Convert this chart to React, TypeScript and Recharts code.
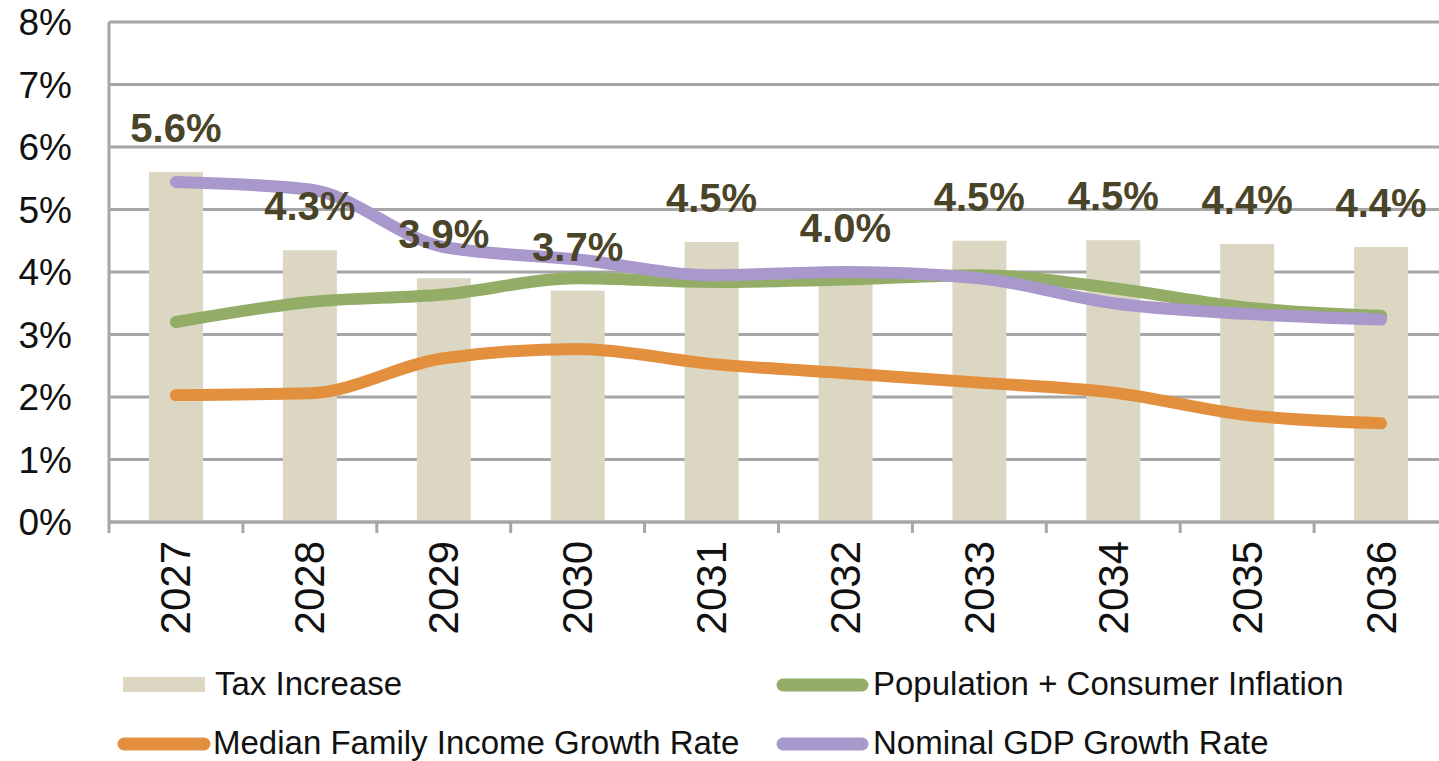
import React from 'react';
import { ComposedChart, Bar, Line, XAxis, YAxis, CartesianGrid, LabelList } from 'recharts';

// values (percent)
const years = ['2027', '2028', '2029', '2030', '2031', '2032', '2033', '2034', '2035', '2036'];
const taxIncrease = [5.6, 4.35, 3.9, 3.7, 4.48, 4.0, 4.5, 4.51, 4.45, 4.4];
const taxLabels = ['5.6%', '4.3%', '3.9%', '3.7%', '4.5%', '4.0%', '4.5%', '4.5%', '4.4%', '4.4%'];
const popInflation = [3.2, 3.52, 3.64, 3.9, 3.84, 3.88, 3.95, 3.74, 3.43, 3.3];
const medianIncome = [2.03, 2.06, 2.62, 2.77, 2.53, 2.38, 2.23, 2.07, 1.71, 1.58];
const nominalGdp = [5.44, 5.32, 4.4, 4.2, 3.95, 4.0, 3.9, 3.5, 3.33, 3.24];
const yTicks = [0, 1, 2, 3, 4, 5, 6, 7, 8];

const data = years.map((year, i) => ({
  year,
  tax: taxIncrease[i],
  label: taxLabels[i],
  pop: popInflation[i],
  median: medianIncome[i],
  gdp: nominalGdp[i],
}));

const FONT = '"Liberation Sans", Arial, sans-serif';
const CHART_W = 1448;
const Y_AXIS_W = 109;
const BAND = (CHART_W - Y_AXIS_W) / years.length;
const GRID = '#a6a6a6';
const BAR = '#dbd7c2';
const GREEN = '#93ad67';
const ORANGE = '#e2903e';
const PURPLE = '#a898cc';

const XTick = (props: any) => {
  const { x, y, payload, index } = props;
  const half = BAND / 2;
  return (
    <g>
      <line x1={x - half} x2={x - half} y1={y} y2={y + 11} stroke={GRID} strokeWidth={3} />
      {index === years.length - 1 && (
        <line x1={x + half} x2={x + half} y1={y} y2={y + 11} stroke={GRID} strokeWidth={3} />
      )}
      <text
        x={x}
        y={y + 19}
        transform={`rotate(-90, ${x}, ${y + 19})`}
        textAnchor="end"
        dominantBaseline="central"
        fontSize={42}
        fontFamily={FONT}
        fill="#111"
      >
        {payload.value}
      </text>
    </g>
  );
};

// legend rows: swatch box and text baseline
const legendItems = [
  { text: 'Tax Increase', color: BAR, kind: 'bar', sx: 123, sw: 82, tx: 215, y: 685 },
  { text: 'Population + Consumer Inflation', color: GREEN, kind: 'line', sx: 777, sw: 91, tx: 873, y: 685 },
  { text: 'Median Family Income Growth Rate', color: ORANGE, kind: 'line', sx: 118, sw: 92, tx: 213, y: 744 },
  { text: 'Nominal GDP Growth Rate', color: PURPLE, kind: 'line', sx: 777, sw: 91, tx: 873, y: 744 },
];

function Legend2() {
  return (
    <svg width={1439} height={761} style={{ position: 'absolute', left: 0, top: 0, pointerEvents: 'none' }}>
      {legendItems.map((it) =>
        <g key={it.text}>
          {it.kind === 'bar' ? (
            <rect x={it.sx} y={it.y - 8} width={it.sw} height={15} fill={it.color} />
          ) : (
            <line x1={it.sx + 6} x2={it.sx + it.sw - 6} y1={it.y} y2={it.y} stroke={it.color} strokeWidth={13} strokeLinecap="round" />
          )}
          <text x={it.tx} y={it.y + 10} fontSize={33} fontFamily={FONT} fill="#111">{it.text}</text>
        </g>
      )}
    </svg>
  );
}

export default function App() {
  return (
    <div style={{ position: 'absolute', left: 0, top: 0, width: 1439, height: 761, overflow: 'hidden', background: '#fff' }}>
      <ComposedChart width={CHART_W} height={650} data={data} margin={{ top: 22, right: 0, bottom: 0, left: 0 }}>
        <CartesianGrid vertical={false} stroke={GRID} strokeWidth={3} />
        <XAxis
          dataKey="year"
          height={128}
          axisLine={{ stroke: GRID, strokeWidth: 3 }}
          tickLine={false}
          tickSize={0}
          tickMargin={0}
          interval={0}
          tick={<XTick />}
        />
        <YAxis
          width={Y_AXIS_W}
          domain={[0, 8]}
          ticks={yTicks}
          tickFormatter={(v: number) => `${v}%`}
          axisLine={{ stroke: GRID, strokeWidth: 3 }}
          tickLine={false}
          tickSize={0}
          tickMargin={37}
          tick={{ fontSize: 37, fontFamily: FONT, fill: '#111' }}
        />
        <Bar dataKey="tax" fill={BAR} barSize={54} isAnimationActive={false} />
        <Line dataKey="pop" stroke={GREEN} strokeWidth={12} strokeLinecap="round" strokeLinejoin="round" dot={false} activeDot={false} type="monotone" isAnimationActive={false} />
        <Line dataKey="median" stroke={ORANGE} strokeWidth={12} strokeLinecap="round" strokeLinejoin="round" dot={false} activeDot={false} type="monotone" isAnimationActive={false} />
        <Line dataKey="gdp" stroke={PURPLE} strokeWidth={12} strokeLinecap="round" strokeLinejoin="round" dot={false} activeDot={false} type="monotone" isAnimationActive={false} />
        {/* invisible series carrying the bar labels so they sit above the lines */}
        <Line dataKey="tax" stroke="none" dot={false} activeDot={false} isAnimationActive={false}>
          <LabelList
            dataKey="label"
            position="top"
            offset={30}
            fontSize={40}
            fontWeight="bold"
            fontFamily={FONT}
            fill="#4a4429"
          />
        </Line>
      </ComposedChart>
      <Legend2 />
    </div>
  );
}
